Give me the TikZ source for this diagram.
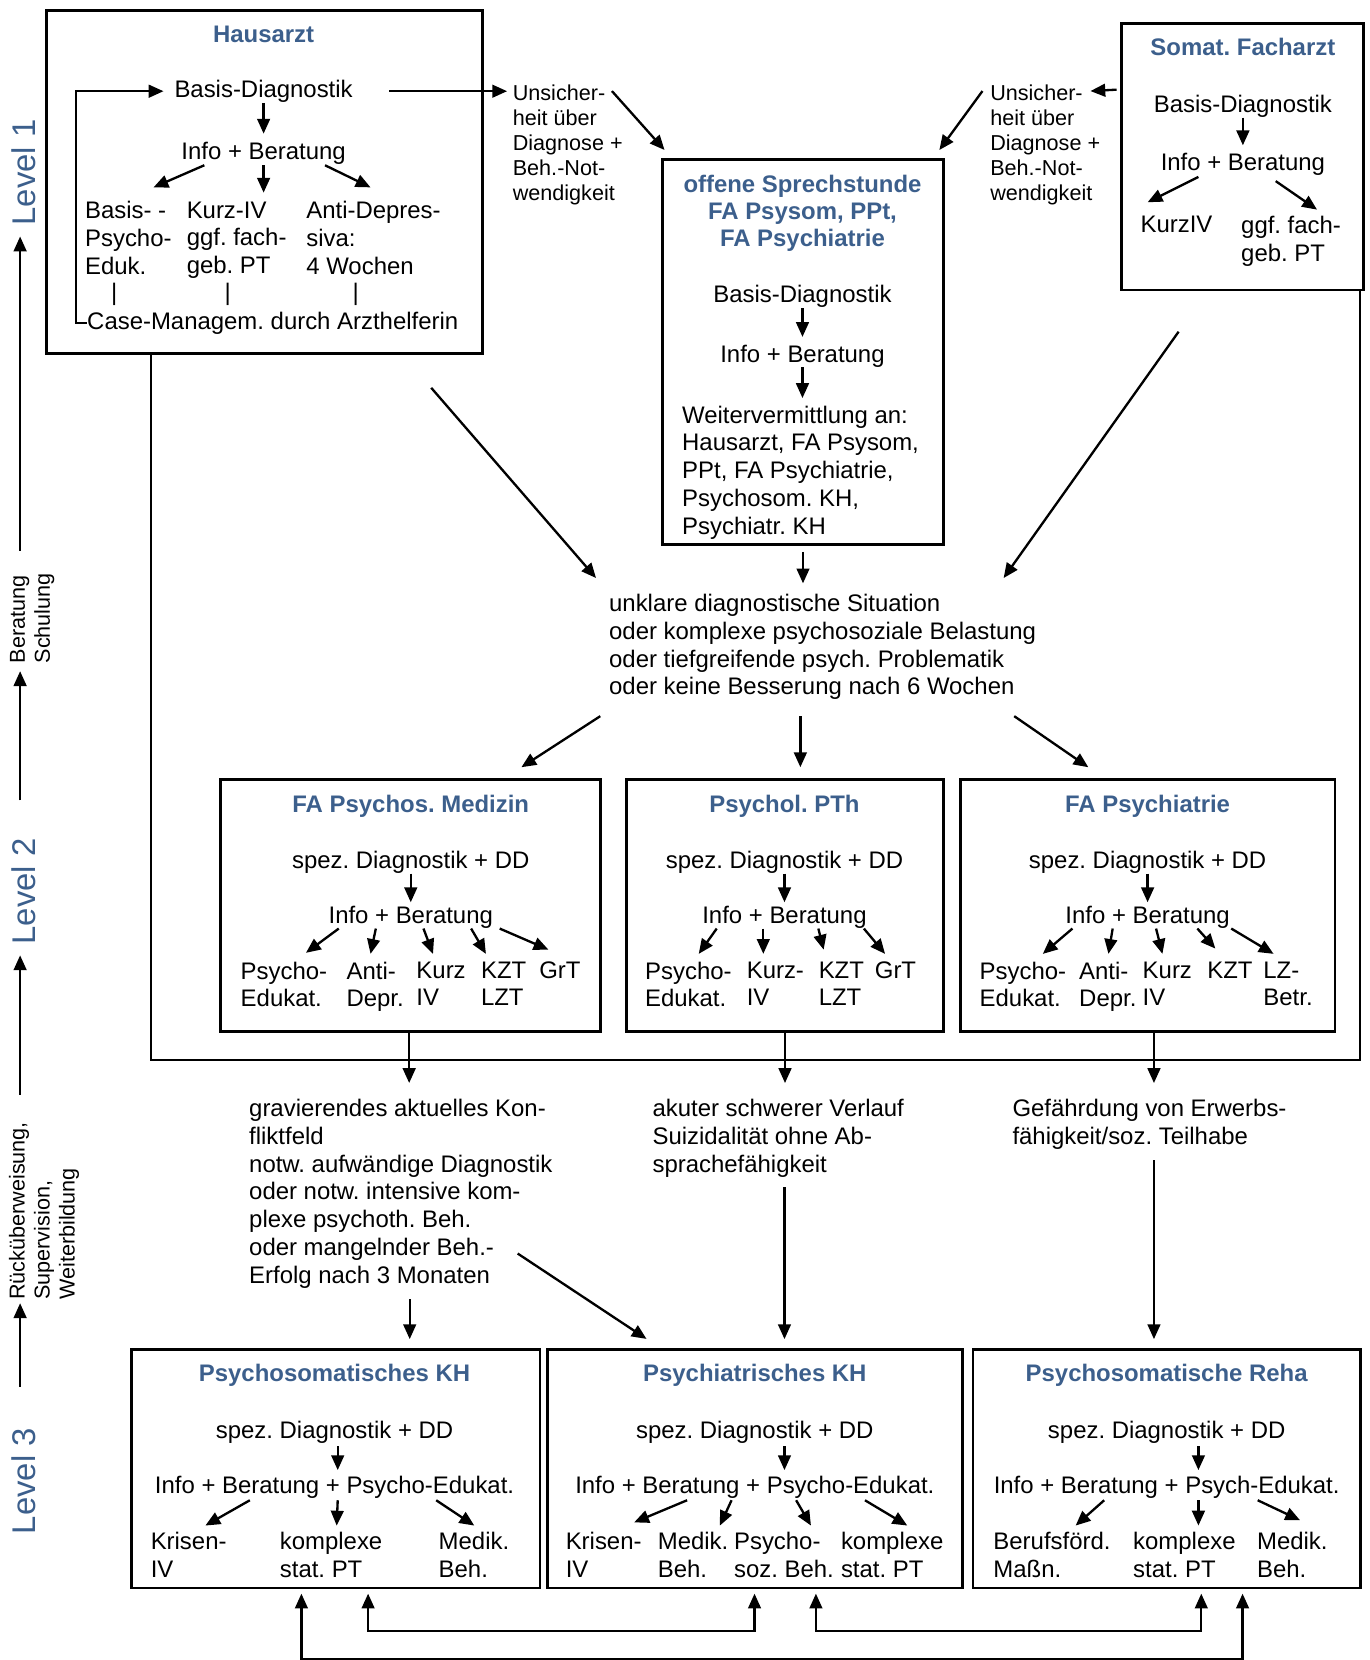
\documentclass[tikz,border=0pt]{standalone}
\usepackage{fontspec}
\setmainfont{Liberation Sans}
\usetikzlibrary{calc}
\usetikzlibrary{arrows.meta}
\usetikzlibrary{positioning,fit}

\definecolor{titleblue}{RGB}{60,95,140}
\newcommand\bodyfont{\fontsize{11.3}{13.1}\selectfont}
\newcommand\smallfont{\fontsize{10.2}{11.8}\selectfont}
\newcommand\levelfont{\fontsize{15.5}{18}\selectfont}

\begin{document}
\frenchspacing
\begin{tikzpicture}[x=0.5pt, y=-0.5pt,
  box/.style={draw, line width=1.3pt, inner sep=0pt},
  txt/.style={inner sep=0pt, font=\bodyfont, align=left},
  ttl/.style={inner sep=0pt, font=\bodyfont\bfseries, text=titleblue, align=center, anchor=base},
  sml/.style={inner sep=0pt, font=\smallfont, align=left},
  lvl/.style={inner sep=0pt, rotate=90, font=\levelfont, text=titleblue},
  arr/.style={line width=1.1pt, -{Triangle[length=7pt,width=6pt]}},
  darr/.style={line width=1.1pt, {Triangle[length=7pt,width=6pt]}-{Triangle[length=7pt,width=6pt]}, shorten <=2pt, shorten >=2pt},
  ln/.style={line width=1pt}]
\useasboundingbox (0,0) rectangle (1294,1568);

% left column
\node[lvl] (l1) at (22,163) {Level 1};
\node[lvl] (l2) at (22,842) {Level 2};
\node[lvl] (l3) at (22,1399) {Level 3};
\node[sml, rotate=90, anchor=north west] (bs) at (9,627) {Beratung\\Schulung};
\node[sml, rotate=90, anchor=north west] (rs) at (8,1228) {Rücküberweisung,\\Supervision,\\Weiterbildung};
\coordinate (a1) at (19,520);
\coordinate (a2) at (19,756);
\coordinate (a3) at (19,1034);
\coordinate (a4) at (19,1310);
\draw[arr, shorten >=5pt] (a1) -- (a1 |- l1.west);
\draw[arr, shorten >=3.5pt] (a2) -- (a2 |- bs.west);
\draw[arr, shorten >=5pt] (a3) -- (a3 |- l2.west);
\draw[arr, shorten >=1.5pt] (a4) -- (a4 |- rs.west);

% Hausarzt
\node[box, fit={(44,10) (456,334)}] (ha) {};
\node[ttl] (ha-t) at (249,40) {Hausarzt};
\node[txt, anchor=base] (ha-d) at (249,92) {Basis-Diagnostik};
\node[txt, anchor=base] (ha-i) at (249,151) {Info + Beratung};
\node[txt, anchor=north west] (ha-1) at (80,190) {Basis- -\\Psycho-\\Eduk.};
\node[txt, anchor=north west] (ha-2) at (176,190) {Kurz-IV\\ggf. fach-\\geb. PT};
\node[txt, anchor=north west] (ha-3) at (289,190) {Anti-Depres-\\siva:\\4 Wochen};
\foreach \k/\x in {1/108, 2/215, 3/336}
  \node[txt] (ha-b\k) at (\x,278) {|};
\node[txt, anchor=base west] (ha-c) at (82,311) {Case-Managem. durch Arzthelferin};
\draw[arr, shorten >=4pt] (ha-d) -- (ha-i);
\draw[arr, shorten >=5pt] (ha-c.west) -- ++(-10,0) |- (ha-d.west);
\draw[arr] ($(ha-i.south)+(-56,0)$) -- ($(ha-1.north west)+(65,-13)$);
\draw[arr] ($(ha-i.south)+(0,0)$) -- ($(ha-2.north west)+(73,-8)$);
\draw[arr] ($(ha-i.south)+(58,0)$) -- ($(ha-3.north west)+(61,-13)$);

% offene Sprechstunde
\node[sml, anchor=north west] (u1) at (484,80) {Unsicher-\\heit über\\Diagnose +\\Beh.-Not-\\wendigkeit};
\node[box, fit={(626,151) (891,514)}] (os) {};
\node[ttl, anchor=north, font=\fontsize{11.3}{12.7}\selectfont\bfseries] (os-t) at (758,165) {offene Sprechstunde\\FA Psysom, PPt,\\FA Psychiatrie};
\node[txt, anchor=base] (os-d) at (758,286) {Basis-Diagnostik};
\node[txt, anchor=base] (os-i) at (758,342) {Info + Beratung};
\node[txt, anchor=north west] (os-w) at (644,383) {Weitervermittlung an:\\Hausarzt, FA Psysom,\\PPt, FA Psychiatrie,\\Psychosom. KH,\\Psychiatr. KH};
\draw[arr, shorten >=3.5pt] (os-d) -- (os-i);
\draw[arr, shorten >=3.5pt] (os-i) -- (os-i |- os-w.north);
\draw[arr, shorten <=17pt, shorten >=2.5pt] (ha-d.east) -- (ha-d.east -| u1.west);
\draw[arr] ($(u1.north west)+(94,6)$) -- ($(os.north west)+(3,-8)$);

% Somat. Facharzt
\node[box, fit={(1059,22) (1288,274)}] (sf) {};
\node[ttl] (sf-t) at (1174,52) {Somat. Facharzt};
\node[txt, anchor=base] (sf-d) at (1174,106) {Basis-Diagnostik};
\node[txt, anchor=base] (sf-i) at (1174,161) {Info + Beratung};
\node[txt, anchor=base west] (sf-1) at (1077,220) {KurzIV};
\node[txt, anchor=north west] (sf-2) at (1172,204) {ggf. fach-\\geb. PT};
\draw[arr, shorten >=3.5pt] (sf-d) -- (sf-i);
\draw[arr] ($(sf-i.south)+(-42,1)$) -- ($(sf-1.north west)+(7,-13)$);
\draw[arr] ($(sf-i.south)+(31,5)$) -- ($(sf-2.north west)+(72,-6)$);
\node[sml, anchor=north west] (u2) at (935,80) {Unsicher-\\heit über\\Diagnose +\\Beh.-Not-\\wendigkeit};
\draw[arr] ($(sf.north west)+(-3,64)$) -- ($(u2.north west)+(95,6)$);
\draw[arr] ($(u2.north west)+(-7,6)$) -- ($(os.north east)+(-5,-8)$);

% Rueckweg Level 2 -> Level 1
\coordinate (fb) at (1285,1001);
\draw[ln] ($(ha.south west)+(100,0)$) |- (fb) -- (fb |- sf.south);

% Bedingungen Level 1 -> Level 2
\node[txt, anchor=north west] (c1) at (575,561) {unklare diagnostische Situation\\oder komplexe psychosoziale Belastung\\oder tiefgreifende psych. Problematik\\oder keine Besserung nach 6 Wochen};
\draw[arr] ($(ha.south east)+(-50,31)$) -- ($(c1.north west)+(-12,-15)$);
\draw[arr, shorten <=3pt, shorten >=5pt] (os.south) -- (os.south |- c1.north);
\draw[arr] ($(sf.south east)+(-176,38)$) -- ($(c1.north west)+(373,-15)$);

% Level 2
\node[box, fit={(208,736) (567,974)}] (pa) {};
\node[box, fit={(592,736) (891,974)}] (pb) {};
\node[box, fit={(907,736) (1261,974)}] (pc) {};
\foreach \n/\x/\lbl in {pa/388/FA Psychos. Medizin, pb/741/Psychol. PTh, pc/1084/FA Psychiatrie}{
  \node[ttl] (\n-t) at (\x,767) {\lbl};
  \node[txt, anchor=base] (\n-d) at (\x,820) {spez. Diagnostik + DD};
  \node[txt, anchor=base] (\n-i) at (\x,872) {Info + Beratung};
  \draw[arr, shorten >=1.5pt] (\n-d) -- (\n-i);
}
\draw[arr] ($(c1.south west)+(-8,15)$) -- ($(pa.north)+(105,-10)$);
\draw[arr, shorten >=5pt] ($(c1.south west)+(181,15)$) coordinate (m1) -- (m1 |- pb.north);
\draw[arr] ($(c1.south west)+(383,15)$) -- ($(pc.north)+(-56,-10)$);

\foreach \n/\x/\lbl in {pa-1/227/Psycho-\\Edukat., pa-2/327/Anti-\\Depr., pa-3/393/Kurz\\IV, pa-4/454/KZT\\LZT, pa-5/509/GrT,
  pb-1/609/Psycho-\\Edukat., pb-2/705/Kurz-\\IV, pb-3/773/KZT\\LZT, pb-4/826/GrT,
  pc-1/925/Psycho-\\Edukat., pc-2/1019/Anti-\\Depr., pc-3/1079/Kurz\\IV, pc-4/1140/KZT, pc-5/1193/LZ-\\Betr.}
  \node[txt, anchor=north west] (\n) at (\x,908) {\lbl};
\foreach \k/\sx/\ex/\ey in {1/-68/62/-8, 2/-33/23/-7, 3/12/16/-7, 4/57/5/-7, 5/84/9/-11}
  \draw[arr] ($(pa-i.south)+(\sx,0)$) -- ($(pa-\k.north west)+(\ex,\ey)$);
\foreach \k/\sx/\ex/\ey in {1/-64/51/-7, 2/-20/16/-7, 3/32/5/-11, 4/75/10/-7}
  \draw[arr] ($(pb-i.south)+(\sx,0)$) -- ($(pb-\k.north west)+(\ex,\ey)$);
\foreach \k/\sx/\ex/\ey in {1/-71/60/-7, 2/-33/28/-7, 3/8/19/-7, 4/47/8/-12, 5/79/10/-7}
  \draw[arr] ($(pc-i.south)+(\sx,0)$) -- ($(pc-\k.north west)+(\ex,\ey)$);

% Bedingungen Level 2 -> Level 3
\node[txt, anchor=north west] (c2) at (235,1038) {gravierendes aktuelles Kon-\\fliktfeld\\notw. aufwändige Diagnostik\\oder notw. intensive kom-\\plexe psychoth. Beh.\\oder mangelnder Beh.-\\Erfolg nach 3 Monaten};
\node[txt, anchor=north west] (c3) at (616,1038) {akuter schwerer Verlauf\\Suizidalität ohne Ab-\\sprachefähigkeit};
\node[txt, anchor=north west] (c4) at (956,1038) {Gefährdung von Erwerbs-\\fähigkeit/soz. Teilhabe};
\draw[arr, shorten >=7.5pt] ($(pa.south)+(-1,0)$) coordinate (m2) -- (m2 |- c2.north);
\draw[arr, shorten >=7.5pt] (pb.south) -- (pb.south |- c3.north);
\draw[arr, shorten >=7.5pt] ($(pc.south)+(6,0)$) coordinate (m3) -- (m3 |- c4.north);

% Level 3
\node[box, fit={(124,1275) (510,1500)}] (pd) {};
\node[box, fit={(517,1275) (909,1500)}] (pe) {};
\node[box, fit={(919,1275) (1285,1500)}] (pf) {};
\foreach \n/\x/\dx/\lbl/\info in {pd/316/3/Psychosomatisches KH/Psycho-Edukat., pe/713/28/Psychiatrisches KH/Psycho-Edukat., pf/1102/30/Psychosomatische Reha/Psych-Edukat.}{
  \node[ttl] (\n-t) at (\x,1305) {\lbl};
  \node[txt, anchor=base] (\n-d) at (\x,1359) {spez. Diagnostik + DD};
  \node[txt, anchor=base] (\n-i) at (\x,1411) {Info + Beratung + \info};
  \draw[arr, shorten <=1pt, shorten >=2.8pt] ($(\n-d.south)+(\dx,0)$) coordinate (\n-m) -- (\n-m |- \n-i.north);
}
\draw[arr, shorten <=5pt, shorten >=4.4pt] ($(c2.south west)+(152,0)$) coordinate (m4) -- (m4 |- pd.north);
\draw[arr] ($(c2.south west)+(254,-33)$) -- ($(pe.north west)+(95,-9)$);
\draw[arr, shorten <=4.5pt, shorten >=4.4pt] ($(c3.south west)+(125,0)$) coordinate (m5) -- (m5 |- pe.north);
\draw[arr, shorten <=5pt, shorten >=4.4pt] ($(c4.south west)+(134,0)$) coordinate (m6) -- (m6 |- pf.north);

\foreach \n/\x/\lbl in {pd-1/142/Krisen-\\IV, pd-2/264/komplexe\\stat. PT, pd-3/414/Medik.\\Beh.,
  pe-1/534/Krisen-\\IV, pe-2/621/Medik.\\Beh., pe-3/693/Psycho-\\soz. Beh., pe-4/794/komplexe\\stat. PT,
  pf-1/938/Berufsförd.\\Maßn., pf-2/1070/komplexe\\stat. PT, pf-3/1187/Medik.\\Beh.}
  \node[txt, anchor=north west] (\n) at (\x,1447) {\lbl};
\foreach \k/\sx/\ex/\ey in {1/-80/52/-6, 2/3/54/-6, 3/96/34/-6}
  \draw[arr] ($(pd-i.south)+(\sx,1)$) -- ($(pd-\k.north west)+(\ex,\ey)$);
\foreach \k/\sx/\ex/\ey in {1/-64/65/-9, 2/-22/59/-6, 3/39/73/-6, 4/104/63/-6}
  \draw[arr] ($(pe-i.south)+(\sx,1)$) -- ($(pe-\k.north west)+(\ex,\ey)$);
\foreach \k/\sx/\ex/\ey in {1/-59/78/-6, 2/30/62/-6, 3/86/41/-11}
  \draw[arr] ($(pf-i.south)+(\sx,1)$) -- ($(pf-\k.north west)+(\ex,\ey)$);

% Verbindungen Level 3
\draw[darr] ($(pd.south west)+(162,0)$) -- ++(0,66) -| ($(pf.south west)+(256,0)$);
\draw[darr] ($(pd.south west)+(225,0)$) -- ++(0,39) -| ($(pe.south west)+(197,0)$);
\draw[darr] ($(pe.south west)+(255,0)$) -- ++(0,39) -| ($(pf.south west)+(217,0)$);
\end{tikzpicture}
\end{document}
